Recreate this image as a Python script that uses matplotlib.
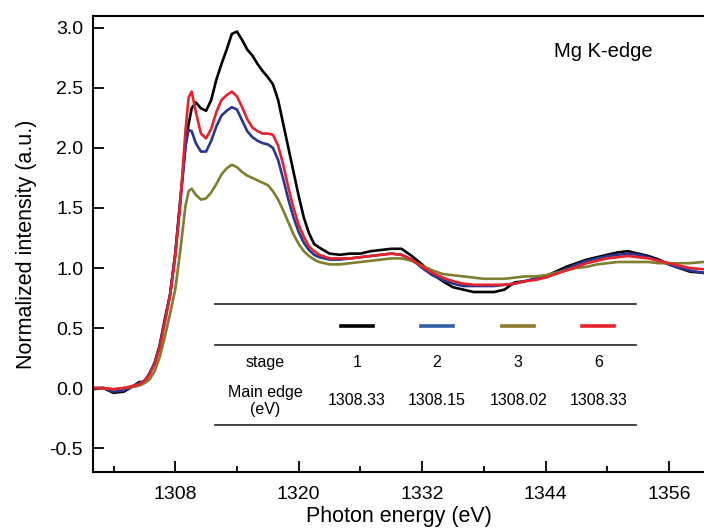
import matplotlib
matplotlib.use("Agg")
import matplotlib.pyplot as plt
from matplotlib.ticker import MultipleLocator

plt.rcParams['font.family'] = ['Liberation Sans', 'DejaVu Sans']
plt.rcParams['axes.unicode_minus'] = False

energy = [1300, 1301, 1302, 1303, 1304, 1304.5, 1305, 1305.5, 1306, 1306.5,
          1307, 1307.5, 1308, 1308.5, 1309, 1309.3, 1309.6, 1310, 1310.5, 1311,
          1311.5, 1312, 1312.5, 1313, 1313.5, 1314, 1314.5, 1315, 1315.5, 1316,
          1316.5, 1317, 1317.5, 1318, 1318.5, 1319, 1319.5, 1320, 1320.5, 1321,
          1321.5, 1322, 1323, 1324, 1325, 1326, 1327, 1328, 1329, 1330,
          1331, 1332, 1333, 1334, 1335, 1336, 1337, 1338, 1339, 1340,
          1341, 1342, 1343, 1344, 1345, 1346, 1347, 1348, 1349, 1350,
          1351, 1352, 1353, 1354, 1355, 1356, 1357, 1358, 1359.3]

stage1 = [-0.01, 0.00, -0.04, -0.03, 0.02, 0.05, 0.05, 0.12, 0.21, 0.36,
          0.58, 0.78, 1.12, 1.58, 2.02, 2.20, 2.33, 2.38, 2.33, 2.31,
          2.40, 2.57, 2.70, 2.82, 2.95, 2.97, 2.90, 2.82, 2.77, 2.70,
          2.64, 2.59, 2.53, 2.40, 2.20, 2.00, 1.80, 1.60, 1.42, 1.29,
          1.20, 1.17, 1.12, 1.11, 1.12, 1.12, 1.14, 1.15, 1.16, 1.16,
          1.10, 1.03, 0.95, 0.89, 0.84, 0.82, 0.80, 0.80, 0.80, 0.82,
          0.88, 0.89, 0.91, 0.93, 0.97, 1.01, 1.04, 1.07, 1.09, 1.11,
          1.13, 1.14, 1.12, 1.10, 1.07, 1.03, 1.00, 0.97, 0.96]

stage2 = [0.00, 0.00, -0.03, -0.02, 0.02, 0.04, 0.06, 0.12, 0.21, 0.35,
          0.56, 0.78, 1.11, 1.55, 2.02, 2.15, 2.14, 2.04, 1.97, 1.97,
          2.06, 2.18, 2.27, 2.31, 2.34, 2.32, 2.23, 2.14, 2.09, 2.06,
          2.04, 2.03, 2.00, 1.90, 1.74, 1.57, 1.42, 1.30, 1.21, 1.15,
          1.11, 1.09, 1.07, 1.07, 1.08, 1.09, 1.10, 1.11, 1.12, 1.11,
          1.07, 1.00, 0.94, 0.90, 0.87, 0.85, 0.85, 0.85, 0.85, 0.86,
          0.87, 0.89, 0.91, 0.93, 0.96, 0.99, 1.03, 1.06, 1.08, 1.10,
          1.11, 1.12, 1.11, 1.09, 1.06, 1.03, 1.00, 0.98, 0.96]

stage3 = [0.00, 0.00, -0.01, 0.00, 0.01, 0.02, 0.04, 0.07, 0.14, 0.26,
          0.43, 0.62, 0.82, 1.15, 1.52, 1.64, 1.66, 1.61, 1.57, 1.58,
          1.63, 1.70, 1.78, 1.83, 1.86, 1.84, 1.80, 1.77, 1.75, 1.73,
          1.71, 1.69, 1.64, 1.57, 1.48, 1.38, 1.28, 1.20, 1.14, 1.10,
          1.07, 1.05, 1.03, 1.03, 1.04, 1.05, 1.06, 1.07, 1.08, 1.08,
          1.06, 1.02, 0.98, 0.95, 0.94, 0.93, 0.92, 0.91, 0.91, 0.91,
          0.92, 0.93, 0.93, 0.94, 0.96, 0.98, 1.00, 1.01, 1.03, 1.04,
          1.05, 1.05, 1.05, 1.05, 1.04, 1.04, 1.04, 1.04, 1.05]

stage6 = [0.00, 0.00, -0.01, 0.00, 0.02, 0.03, 0.06, 0.11, 0.20, 0.34,
          0.55, 0.77, 1.10, 1.55, 2.15, 2.42, 2.47, 2.30, 2.12, 2.08,
          2.16, 2.30, 2.40, 2.44, 2.47, 2.43, 2.34, 2.24, 2.17, 2.14,
          2.12, 2.12, 2.11, 2.02, 1.86, 1.67, 1.50, 1.36, 1.26, 1.18,
          1.14, 1.11, 1.08, 1.08, 1.08, 1.09, 1.10, 1.11, 1.12, 1.11,
          1.07, 1.01, 0.96, 0.92, 0.89, 0.87, 0.86, 0.86, 0.86, 0.86,
          0.87, 0.89, 0.90, 0.92, 0.95, 0.98, 1.01, 1.04, 1.06, 1.08,
          1.09, 1.10, 1.09, 1.08, 1.06, 1.04, 1.02, 1.00, 0.99]

stages = ["1", "2", "3", "6"]
main_edge = ["1308.33", "1308.15", "1308.02", "1308.33"]
curve_colors = ["#000000", "#2a3590", "#7e7e2e", "#e8222c"]
legend_colors = ["#000000", "#2f5fa8", "#8c7a2c", "#e8222c"]

fig = plt.figure(figsize=(7.04, 5.31), dpi=100)
ax = fig.add_axes([0.132, 0.111, 0.868, 0.859])

for y, c in zip([stage1, stage2, stage3, stage6], curve_colors):
    ax.plot(energy, y, color=c, lw=1.9, solid_joinstyle='round')

ax.set_xlim(1300, 1359.4)
ax.set_ylim(-0.7, 3.1)
ax.set_xticks([1308, 1320, 1332, 1344, 1356])
ax.xaxis.set_minor_locator(MultipleLocator(6))
ax.yaxis.set_major_locator(MultipleLocator(0.5))
ax.tick_params(axis='both', which='major', direction='in', length=8, width=1.3, labelsize=14)
ax.tick_params(axis='x', which='minor', direction='in', length=4, width=1.3)
ax.tick_params(axis='x', pad=10)
ax.tick_params(axis='y', pad=7)
ax.spines['right'].set_visible(False)
for s in ['left', 'top', 'bottom']:
    ax.spines[s].set_linewidth(1.5)

ax.set_xlabel("Photon energy (eV)", fontsize=15.5, labelpad=2)
ax.set_ylabel("Normalized intensity (a.u.)", fontsize=15.5, labelpad=9)

ax.text(0.836, 0.921, "Mg K-edge", transform=ax.transAxes, fontsize=14.5,
        ha='center', va='center')

# table
tx0, tx1 = 0.1997, 0.889
for yy in [0.368, 0.2785, 0.103]:
    ax.plot([tx0, tx1], [yy, yy], transform=ax.transAxes, color='#222222', lw=1.2)

col_x = [0.432, 0.563, 0.696, 0.827]
for cx, lc, st, me in zip(col_x, legend_colors, stages, main_edge):
    ax.plot([cx - 0.026, cx + 0.026], [0.320, 0.320], transform=ax.transAxes,
            color=lc, lw=2.6)
    ax.text(cx, 0.241, st, transform=ax.transAxes, fontsize=11.5, ha='center', va='center')
    ax.text(cx, 0.156, me, transform=ax.transAxes, fontsize=11.5, ha='center', va='center')
ax.text(0.2815, 0.241, "stage", transform=ax.transAxes, fontsize=11.5, ha='center', va='center')
ax.text(0.2815, 0.156, "Main edge\n(eV)", transform=ax.transAxes, fontsize=11.5,
        ha='center', va='center', linespacing=1.2)

fig.savefig("out.png", dpi=100)
